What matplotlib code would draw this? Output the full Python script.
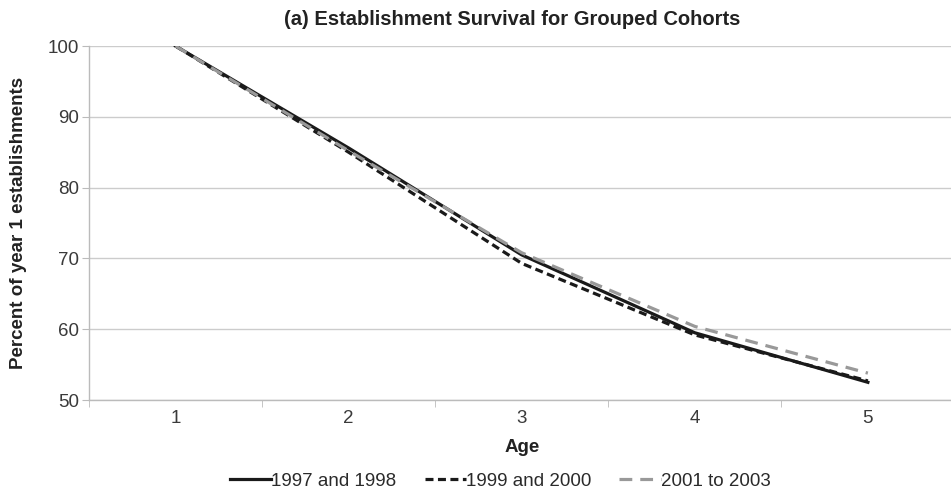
import matplotlib
matplotlib.use('Agg')
import matplotlib.pyplot as plt
from matplotlib.ticker import FixedLocator

plt.rcParams['font.family'] = ['Liberation Sans', 'DejaVu Sans']

ages = [1, 2, 3, 4, 5]
s_9798 = [100, 85.6, 70.5, 59.5, 52.5]
s_9900 = [100, 85.0, 69.3, 59.2, 52.7]
s_0103 = [100, 85.2, 70.8, 60.4, 53.8]

fig = plt.figure(figsize=(9.51, 4.93), dpi=100)
ax = fig.add_axes([0.0936, 0.1886, 0.91, 0.718])

ax.plot(ages, s_9798, color='#1a1a1a', lw=2.3, label='1997 and 1998', zorder=3)
ax.plot(ages, s_9900, color='#1a1a1a', lw=2.3, ls=(0, (2.5, 1.4)), label='1999 and 2000', zorder=3)
ax.plot(ages, s_0103, color='#999999', lw=2.3, ls=(0, (4.0, 2.5)), label='2001 to 2003', zorder=4)

ax.set_xlim(0.5, 5.5)
ax.set_ylim(50, 100)
ax.set_yticks([50, 60, 70, 80, 90, 100])
ax.set_xticks(ages)
ax.xaxis.set_minor_locator(FixedLocator([0.5, 1.5, 2.5, 3.5, 4.5, 5.5]))
ax.tick_params(axis='x', which='major', length=0, pad=7, labelsize=13.5, labelcolor='#3a3a3a')
ax.tick_params(axis='x', which='minor', length=5, color='#bbbbbb', direction='out')
ax.tick_params(axis='y', length=5, color='#bbbbbb', labelsize=13.5, labelcolor='#3a3a3a', pad=2)

ax.grid(axis='y', color='#cccccc', lw=1)
ax.set_axisbelow(True)
for side in ['top', 'right']:
    ax.spines[side].set_visible(False)
for side in ['left', 'bottom']:
    ax.spines[side].set_color('#bbbbbb')
    ax.spines[side].set_linewidth(1)

ax.set_xlabel('Age', fontsize=13.5, fontweight='bold', labelpad=9, color='#222222')
ax.set_ylabel('Percent of year 1 establishments', fontsize=13.5, fontweight='bold',
              labelpad=15, color='#222222')
ax.set_title('(a) Establishment Survival for Grouped Cohorts', fontsize=14.5,
             fontweight='bold', pad=15, color='#222222', x=0.489)

fig.legend(loc='lower center', bbox_to_anchor=(0.526, -0.028), ncol=3, frameon=False,
           fontsize=13.5, handlelength=2.2, handletextpad=0.0, columnspacing=1.5,
           labelcolor='#2a2a2a')

fig.savefig('out.png', dpi=100)
